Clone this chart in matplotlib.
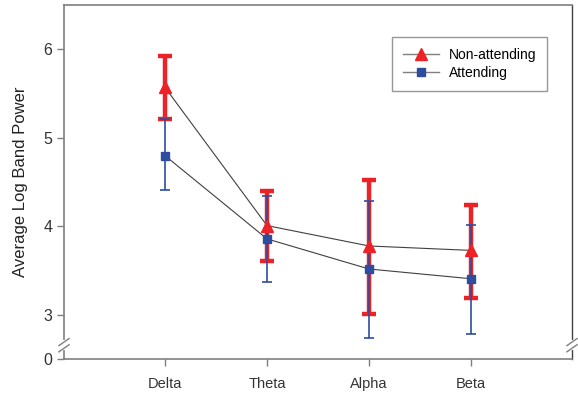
#!/usr/bin/env python3

import matplotlib
matplotlib.use("Agg")
import matplotlib.pyplot as plt
from matplotlib.lines import Line2D

plt.rcParams["font.family"] = ["Liberation Sans", "DejaVu Sans"]

# data
bands = ["Delta", "Theta", "Alpha", "Beta"]
non_mean = [5.57, 4.01, 3.78, 3.73]
non_hi = [5.93, 4.40, 4.52, 4.24]
non_lo = [5.21, 3.61, 3.01, 3.19]
att_mean = [4.80, 3.86, 3.52, 3.41]
att_hi = [5.21, 4.34, 4.29, 4.02]
att_lo = [4.41, 3.37, 2.74, 2.79]
y_ticks = [3, 4, 5, 6]

red = "#ec2227"
blue = "#2f4d9e"
grey = "#7f7f7f"

# the y axis is broken between 0 and 3; "0" sits at the bottom of the axes
y_zero = 2.504
y_top = 6.5

fig = plt.figure(figsize=(5.78, 3.94), dpi=100)
ax = fig.add_axes([0.1107, 0.0888, 0.8789, 0.8985])

x = list(range(1, len(bands) + 1))

non_err = [[m - l for m, l in zip(non_mean, non_lo)],
           [h - m for m, h in zip(non_mean, non_hi)]]
att_err = [[m - l for m, l in zip(att_mean, att_lo)],
           [h - m for m, h in zip(att_mean, att_hi)]]

ax.plot(x, non_mean, color="#404040", lw=0.8, zorder=2)
ax.plot(x, att_mean, color="#404040", lw=0.8, zorder=2)

ax.errorbar(x, non_mean, yerr=non_err, fmt="none", ecolor=red,
            elinewidth=3.2, capsize=4.8, capthick=3.2, zorder=3)
ax.errorbar(x, att_mean, yerr=att_err, fmt="none", ecolor=blue,
            elinewidth=1.2, capsize=3.7, capthick=1.2, zorder=4)

ax.plot(x, non_mean, "^", color=red, ms=9, mec=red, zorder=5)
ax.plot(x, att_mean, "s", color=blue, ms=6, mec=blue, zorder=6)

handles = [
    Line2D([], [], color=grey, lw=1, marker="^", ms=8.5, mfc=red, mec=red),
    Line2D([], [], color=grey, lw=1, marker="s", ms=5.5, mfc=blue, mec=blue),
]
leg = ax.legend(handles, ["Non-attending", "Attending"], loc="upper right",
                bbox_to_anchor=(0.951, 0.91), borderaxespad=0, fontsize=10,
                frameon=True, fancybox=False, handlelength=2.6,
                borderpad=0.8, labelspacing=0.3, handletextpad=0.7)
leg.get_frame().set_edgecolor(grey)
leg.get_frame().set_linewidth(1.0)

ax.set_xlim(0.01, 4.99)
ax.set_ylim(y_zero, y_top)
ax.set_xticks(x)
ax.set_xticklabels(bands, fontsize=10.5, color="#333333")
ax.set_yticks([y_zero] + y_ticks)
ax.set_yticklabels(["0"] + [str(t) for t in y_ticks], fontsize=11.5,
                   color="#333333")
ax.tick_params(axis="both", direction="out", length=5, color=grey, width=1)
ax.tick_params(axis="x", pad=8)
ax.set_ylabel("Average Log Band Power", fontsize=12, color="#222222",
              labelpad=11)

for s in ax.spines.values():
    s.set_color(grey)
    s.set_linewidth(1.2)
ax.spines["right"].set_color("#404040")
ax.spines["right"].set_linewidth(1.0)

# break marks on left and right spines
y_brk = 2.66
for xb in (0.0, 1.0):
    ax.plot([xb, xb], [y_brk - 0.035, y_brk + 0.035], color="white", lw=3,
            transform=ax.get_yaxis_transform(), clip_on=False, zorder=7)
    for dy in (-0.035, 0.035):
        ax.plot([xb - 0.01, xb + 0.01], [y_brk + dy - 0.04, y_brk + dy + 0.04],
                color=grey, lw=1, transform=ax.get_yaxis_transform(),
                clip_on=False, zorder=8)

fig.savefig("out.png", dpi=100)
